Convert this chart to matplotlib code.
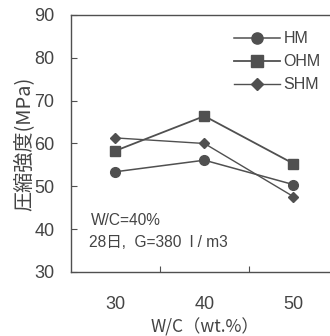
import matplotlib
matplotlib.use("Agg")
import matplotlib.pyplot as plt

plt.rcParams['font.family'] = ['Liberation Sans', 'Noto Sans CJK JP', 'DejaVu Sans']

wc = [30, 40, 50]
hm = [53.4, 56.1, 50.4]
ohm = [58.3, 66.4, 55.3]
shm = [61.3, 60.0, 47.6]
series_names = ['HM', 'OHM', 'SHM']

line_color = '#505050'
text_color = '#444444'
cjk = ['Noto Sans CJK JP', 'DejaVu Sans']

fig = plt.figure(figsize=(3.30, 3.36), dpi=100)
ax = fig.add_axes([0.215, 0.1905, 0.809, 0.7649])

ax.plot(wc, hm, color=line_color, lw=1.1, marker='o', ms=7, mfc=line_color, mec=line_color, label=series_names[0])
ax.plot(wc, ohm, color=line_color, lw=1.3, marker='s', ms=7.5, mfc=line_color, mec=line_color, label=series_names[1])
ax.plot(wc, shm, color=line_color, lw=1.0, marker='D', ms=5.5, mfc=line_color, mec=line_color, label=series_names[2])

ax.set_xlim(25, 55)
ax.set_ylim(30, 90)
ax.set_yticks([30, 40, 50, 60, 70, 80, 90])
ax.set_xticks([35, 45])
ax.set_xticklabels([])
ax.tick_params(axis='both', direction='in', length=4, width=0.8, color=line_color,
               labelsize=13, labelcolor=text_color)
ax.tick_params(axis='y', pad=12)
for x in wc:
    ax.text(x, -0.126, str(x), transform=ax.get_xaxis_transform(), ha='center', va='center',
            fontsize=13, color=text_color)

for s in ax.spines.values():
    s.set_color(line_color)
    s.set_linewidth(1.0)

ax.set_ylabel('圧縮強度(MPa)', fontsize=14.5, color=text_color, family=cjk, labelpad=0)
ax.text(0.5, -0.215, 'W/C（wt.%）', transform=ax.transAxes, ha='center', va='center',
        fontsize=12.5, color=text_color, family=cjk)

ax.text(27.25, 42.0, 'W/C=40%', fontsize=11.2, color=text_color, va='center')
ax.text(27.0, 36.8, '28日,  G=380  l / m3', fontsize=11.2, color=text_color, va='center')

leg = ax.legend(loc='upper left', bbox_to_anchor=(0.557, 0.993), frameon=False,
                fontsize=11.5, handlelength=2.85, handletextpad=0.26, labelspacing=0.5,
                labelcolor=text_color, markerscale=1.15)

fig.savefig('out.png', dpi=100)
